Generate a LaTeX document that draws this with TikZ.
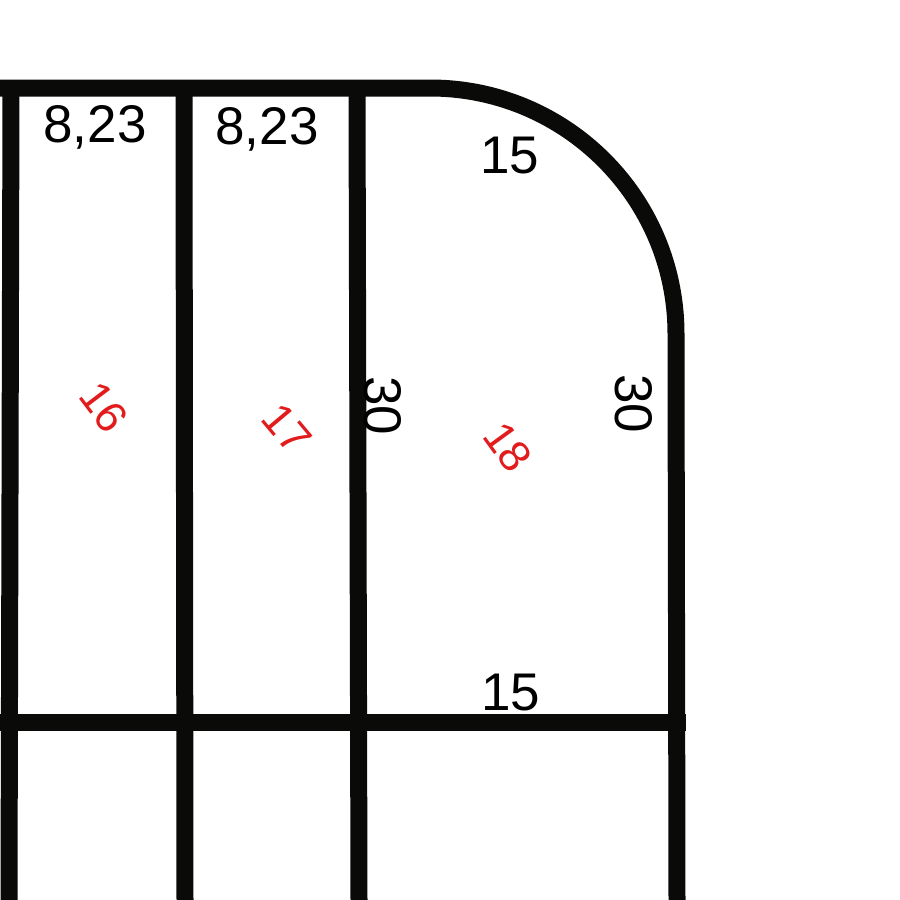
\documentclass[tikz,border=0pt]{standalone}
\usepackage{fontspec}
\setmainfont{Liberation Sans}
\definecolor{ink}{RGB}{10,10,8}
\definecolor{lbl}{RGB}{226,28,28}
\begin{document}
\begin{tikzpicture}[x=1pt,y=-1pt,
  wall/.style={draw=ink,line width=17pt,line cap=butt,line join=miter},
  dim/.style={text=black,inner sep=0pt,font=\fontsize{53}{60}\selectfont},
  roomno/.style={text=lbl,inner sep=0pt,font=\fontsize{44}{52}\selectfont}]
\useasboundingbox (0,0) rectangle (900,900);
% outer wall with rounded corner
\draw[wall] (0,88) -- (430,88) arc[start angle=-90,end angle=0,radius=246] -- (677,900);
% inner horizontal wall
\draw[wall] (0,722) -- (685.5,722);
% vertical walls
\draw[wall] (11,88) -- (9,900);
\draw[wall] (184,88) -- (185,900);
\draw[wall] (357,88) -- (359,900);
% labels
\node[dim,anchor=base] (a1) at (95,142) {8,23};
\node[dim,anchor=base] (a2) at (267,144) {8,23};
\node[dim,anchor=base] (a3) at (510,173) {15};
\node[dim,anchor=base] (a4) at (511,710) {15};
\node[dim,rotate=-90] (a5) at (382.5,406) {30};
\node[dim,rotate=-90] (a6) at (633.5,403.5) {30};
\node[roomno,rotate=-53] (r16) at (104,407) {16};
\node[roomno,rotate=-50] (r17) at (287,429) {17};
\node[roomno,rotate=-54] (r18) at (508,447) {18};
\end{tikzpicture}
\end{document}
